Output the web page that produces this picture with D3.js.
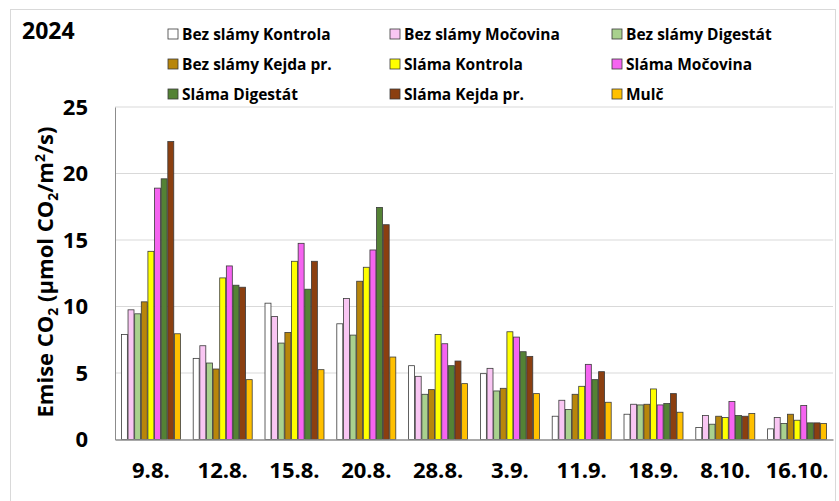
<!DOCTYPE html>
<html>
<head>
<meta charset="utf-8">
<script src="https://cdn.jsdelivr.net/npm/d3@7"></script>
<style>
  body { margin: 0; background: #fff; }
  text { font-family: "Open Sans", "Liberation Sans", sans-serif; font-weight: 700; fill: #000; }
</style>
</head>
<body>
<svg width="839" height="501"></svg>
<script>
// data
const categories = ["9.8.", "12.8.", "15.8.", "20.8.", "28.8.", "3.9.", "11.9.", "18.9.", "8.10.", "16.10."];
const seriesNames = ["Bez slámy Kontrola", "Bez slámy Močovina", "Bez slámy Digestát",
  "Bez slámy Kejda pr.", "Sláma Kontrola", "Sláma Močovina",
  "Sláma Digestát", "Sláma Kejda pr.", "Mulč"];
const seriesColors = ["#ffffff", "#f9c6f3", "#a9d18e", "#b8860b", "#ffff00", "#f564f0", "#548235", "#8b3f10", "#ffc000"];
const yTicks = [0, 5, 10, 15, 20, 25];

const bezKontrola   = [7.9, 6.1, 10.25, 8.7, 5.55, 4.95, 1.75, 1.9, 0.9, 0.8];
const bezMocovina   = [9.75, 7.05, 9.25, 10.6, 4.75, 5.35, 2.95, 2.65, 1.8, 1.65];
const bezDigestat   = [9.45, 5.75, 7.25, 7.85, 3.4, 3.65, 2.25, 2.6, 1.15, 1.2];
const bezKejda      = [10.35, 5.3, 8.05, 11.9, 3.75, 3.85, 3.4, 2.65, 1.75, 1.9];
const slamaKontrola = [14.15, 12.15, 13.4, 12.95, 7.9, 8.1, 4.0, 3.8, 1.65, 1.45];
const slamaMocovina = [18.9, 13.05, 14.75, 14.25, 7.2, 7.7, 5.65, 2.6, 2.85, 2.55];
const slamaDigestat = [19.6, 11.6, 11.3, 17.45, 5.55, 6.6, 4.5, 2.7, 1.8, 1.25];
const slamaKejda    = [22.4, 11.45, 13.4, 16.15, 5.9, 6.25, 5.1, 3.45, 1.75, 1.25];
const mulc          = [7.95, 4.5, 5.25, 6.2, 4.2, 3.45, 2.8, 2.05, 1.95, 1.2];

const seriesValues = [bezKontrola, bezMocovina, bezDigestat, bezKejda,
  slamaKontrola, slamaMocovina, slamaDigestat, slamaKejda, mulc];

const svg = d3.select("svg");
const width = +svg.attr("width");
const height = +svg.attr("height");

// outer frame
svg.append("rect")
  .attr("x", 10.5).attr("y", 9.5)
  .attr("width", width - 14).attr("height", height)
  .attr("fill", "none").attr("stroke", "#d9d9d9");

const margin = {left: 115, right: 6, top: 107, bottom: 61.5};

const x = d3.scaleBand()
  .domain(categories)
  .range([margin.left, width - margin.right])
  .paddingInner(0.16)
  .paddingOuter(0.08);

const xs = d3.scaleBand()
  .domain(d3.range(seriesNames.length))
  .range([0, x.bandwidth()])
  .padding(0.1);

const y = d3.scaleLinear()
  .domain([0, 25])
  .range([height - margin.bottom, margin.top]);

// gridlines
svg.append("g")
  .selectAll("line")
  .data(yTicks.filter(d => d > 0))
  .join("line")
  .attr("x1", margin.left).attr("x2", width - margin.right)
  .attr("y1", d => y(d)).attr("y2", d => y(d))
  .attr("stroke", "#d9d9d9").attr("stroke-width", 1.2);

// y axis
const yAxis = svg.append("g")
  .attr("transform", `translate(${margin.left},0)`)
  .call(d3.axisLeft(y).tickValues(yTicks).tickSize(0).tickPadding(27));
yAxis.select(".domain").attr("stroke", "#8c8c8c");
yAxis.selectAll("text").style("font-size", "22px");

// bars
const groups = svg.append("g")
  .selectAll("g")
  .data(categories)
  .join("g")
  .attr("transform", d => `translate(${x(d)},0)`);

groups.selectAll("rect")
  .data((d, i) => seriesValues.map((vals, s) => ({s, v: vals[i]})))
  .join("rect")
  .attr("x", d => xs(d.s))
  .attr("width", xs.bandwidth())
  .attr("y", d => y(d.v))
  .attr("height", d => y(0) - y(d.v))
  .attr("fill", d => seriesColors[d.s])
  .attr("stroke", "#3a3a3a")
  .attr("stroke-width", 0.8);

// x axis
const xAxis = svg.append("g")
  .attr("transform", `translate(0,${y(0)})`)
  .call(d3.axisBottom(x).tickSize(0).tickPadding(23));
xAxis.select(".domain").attr("stroke", "#8c8c8c").attr("stroke-width", 1.3);
xAxis.selectAll("text").style("font-size", "22px");

// y label
const ylab = svg.append("text")
  .attr("transform", `translate(53,272) rotate(-90)`)
  .attr("text-anchor", "middle")
  .style("font-size", "22px");
ylab.append("tspan").text("Emise CO");
ylab.append("tspan").text("2").attr("dy", 5).style("font-size", "14px");
ylab.append("tspan").text(" (µmol CO").attr("dy", -5);
ylab.append("tspan").text("2").attr("dy", 5).style("font-size", "14px");
ylab.append("tspan").text("/m").attr("dy", -5);
ylab.append("tspan").text("2").attr("dy", -8).style("font-size", "14px");
ylab.append("tspan").text("/s)").attr("dy", 8);

// title
svg.append("text")
  .attr("x", 22).attr("y", 39)
  .style("font-size", "23px")
  .text("2024");

// legend
const legendX = [168, 390, 612];
const legendY = [34, 64, 94];
const legend = svg.append("g")
  .selectAll("g")
  .data(seriesNames)
  .join("g")
  .attr("transform", (d, i) => `translate(${legendX[i % 3]},${legendY[Math.floor(i / 3)]})`);

legend.append("rect")
  .attr("x", 0).attr("y", -5)
  .attr("width", 10).attr("height", 10)
  .attr("fill", (d, i) => seriesColors[i])
  .attr("stroke", "#3a3a3a").attr("stroke-width", 0.8);

legend.append("text")
  .attr("x", 14).attr("y", 5.5)
  .style("font-size", "15.5px")
  .text(d => d);
</script>
</body>
</html>
